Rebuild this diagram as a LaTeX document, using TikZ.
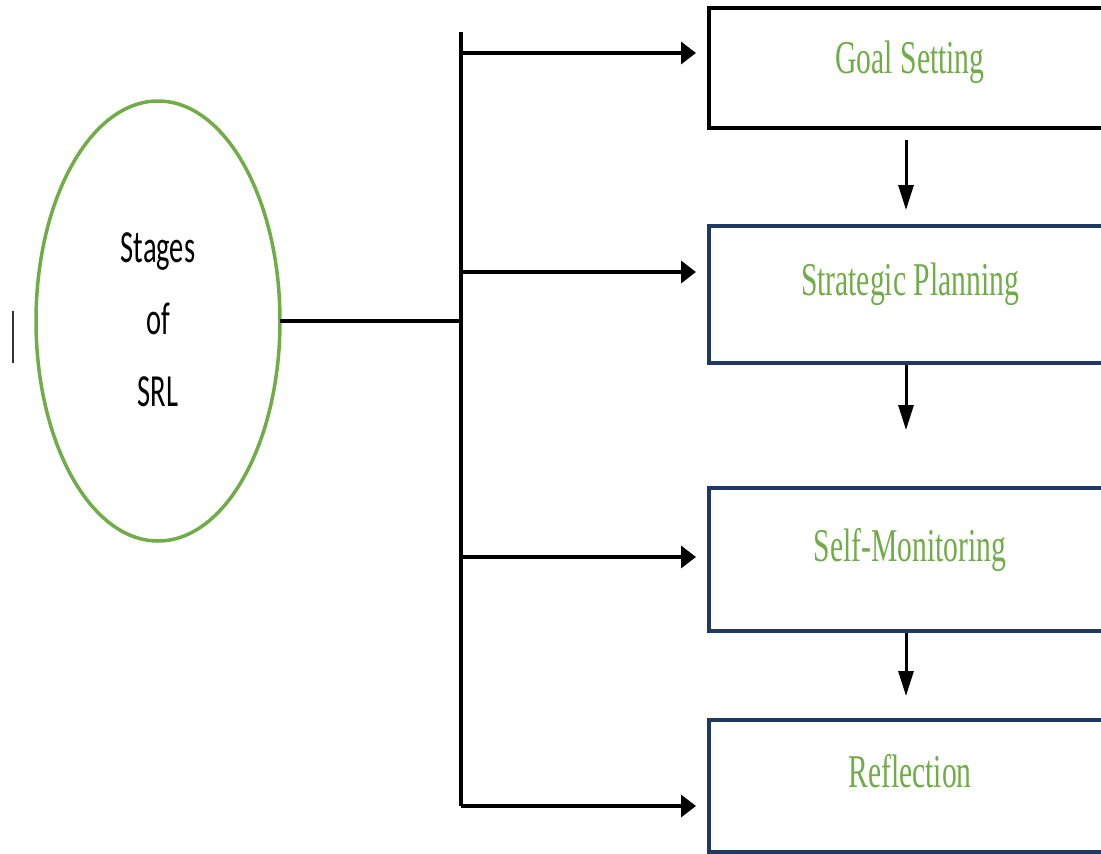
\documentclass[tikz,border=0pt]{standalone}
\usepackage{fontspec}
\setmainfont{Liberation Serif}
\newfontfamily\calib{Carlito}
\usetikzlibrary{arrows.meta,shapes.geometric}
\definecolor{srlgreen}{HTML}{70AD47}
\definecolor{srlnavy}{HTML}{1F3864}
\tikzset{
  stagebox/.style={draw=srlnavy, line width=4pt, rectangle, minimum width=397pt, inner sep=0pt, outer sep=0pt},
  stagetext/.style={text=srlgreen, anchor=base, inner sep=0pt, font=\fontsize{47}{56}\selectfont},
  srltext/.style={text=black, anchor=base, inner sep=0pt, font=\calib\fontsize{46}{55}\selectfont},
  harrow/.style={line width=3.5pt, -{Triangle[length=15pt,width=22pt]}, shorten >=13pt},
  varrow/.style={line width=3pt, -{Triangle[length=25pt,width=15pt]}},
  plainline/.style={line width=3.5pt}
}
\begin{document}
\begin{tikzpicture}[x=1pt,y=-1pt]
\useasboundingbox (0,0) rectangle (1101,854);
\clip (0,0) rectangle (1101,854);
% ellipse
\node[ellipse, draw=srlgreen, line width=3.5pt, minimum width=244pt, minimum height=440pt, inner sep=0pt, outer sep=0pt] (ell) at (158,321) {};
\node[srltext] (t1) at (158,262) {\scalebox{0.62}[1]{Stages}};
\node[srltext] (t2) at (158,334) {\scalebox{0.62}[1]{of}};
\node[srltext] (t3) at (158,406) {\scalebox{0.62}[1]{SRL}};
% small bar
\coordinate (bara) at (13,311);
\coordinate (barb) at (13,363);
\draw[line width=2pt, black!80] (bara) -- (barb);
% boxes
\node[stagebox, draw=black, minimum height=120pt] (g1) at (907.5,68) {};
\node[stagebox, minimum height=137pt] (g2) at (907.5,294.5) {};
\node[stagebox, minimum height=143pt] (g3) at (907.5,559.5) {};
\node[stagebox, minimum height=132pt] (g4) at (907.5,786) {};
\node[stagetext] (l1) at (910,73) {\scalebox{0.63}[1]{Goal Setting}};
\node[stagetext] (l2) at (910,295) {\scalebox{0.63}[1]{Strategic Planning}};
\node[stagetext] (l3) at (910,561) {\scalebox{0.63}[1]{Self-Monitoring}};
\node[stagetext] (l4) at (910,787) {\scalebox{0.63}[1]{Reflection}};
% trunk
\coordinate (tmid) at (461,321);
\coordinate (ttop) at (461,32);
\coordinate (tbot) at (461,806);
\coordinate (a1) at (461,53);
\coordinate (a2) at (461,272);
\coordinate (a3) at (461,557);
\coordinate (a4) at (461,806);
\draw[plainline] (ell.east) -- (tmid);
\draw[plainline] (ttop) -- (tbot);
\draw[harrow] (a1) -- (a1 -| g1.west);
\draw[harrow] (a2) -- (a2 -| g2.west);
\draw[harrow] (a3) -- (a3 -| g3.west);
\draw[harrow] (a4) -- (a4 -| g4.west);
% down arrows
\draw[varrow] ([xshift=-1.5pt,yshift=-12pt]g1.south) -- ([xshift=-1.5pt,yshift=16pt]g2.north);
\draw[varrow] ([xshift=-1.5pt,yshift=-2pt]g2.south) -- ([xshift=-1.5pt,yshift=58pt]g3.north);
\draw[varrow] ([xshift=-1.5pt,yshift=-2pt]g3.south) -- ([xshift=-1.5pt,yshift=24pt]g4.north);
\end{tikzpicture}
\end{document}
